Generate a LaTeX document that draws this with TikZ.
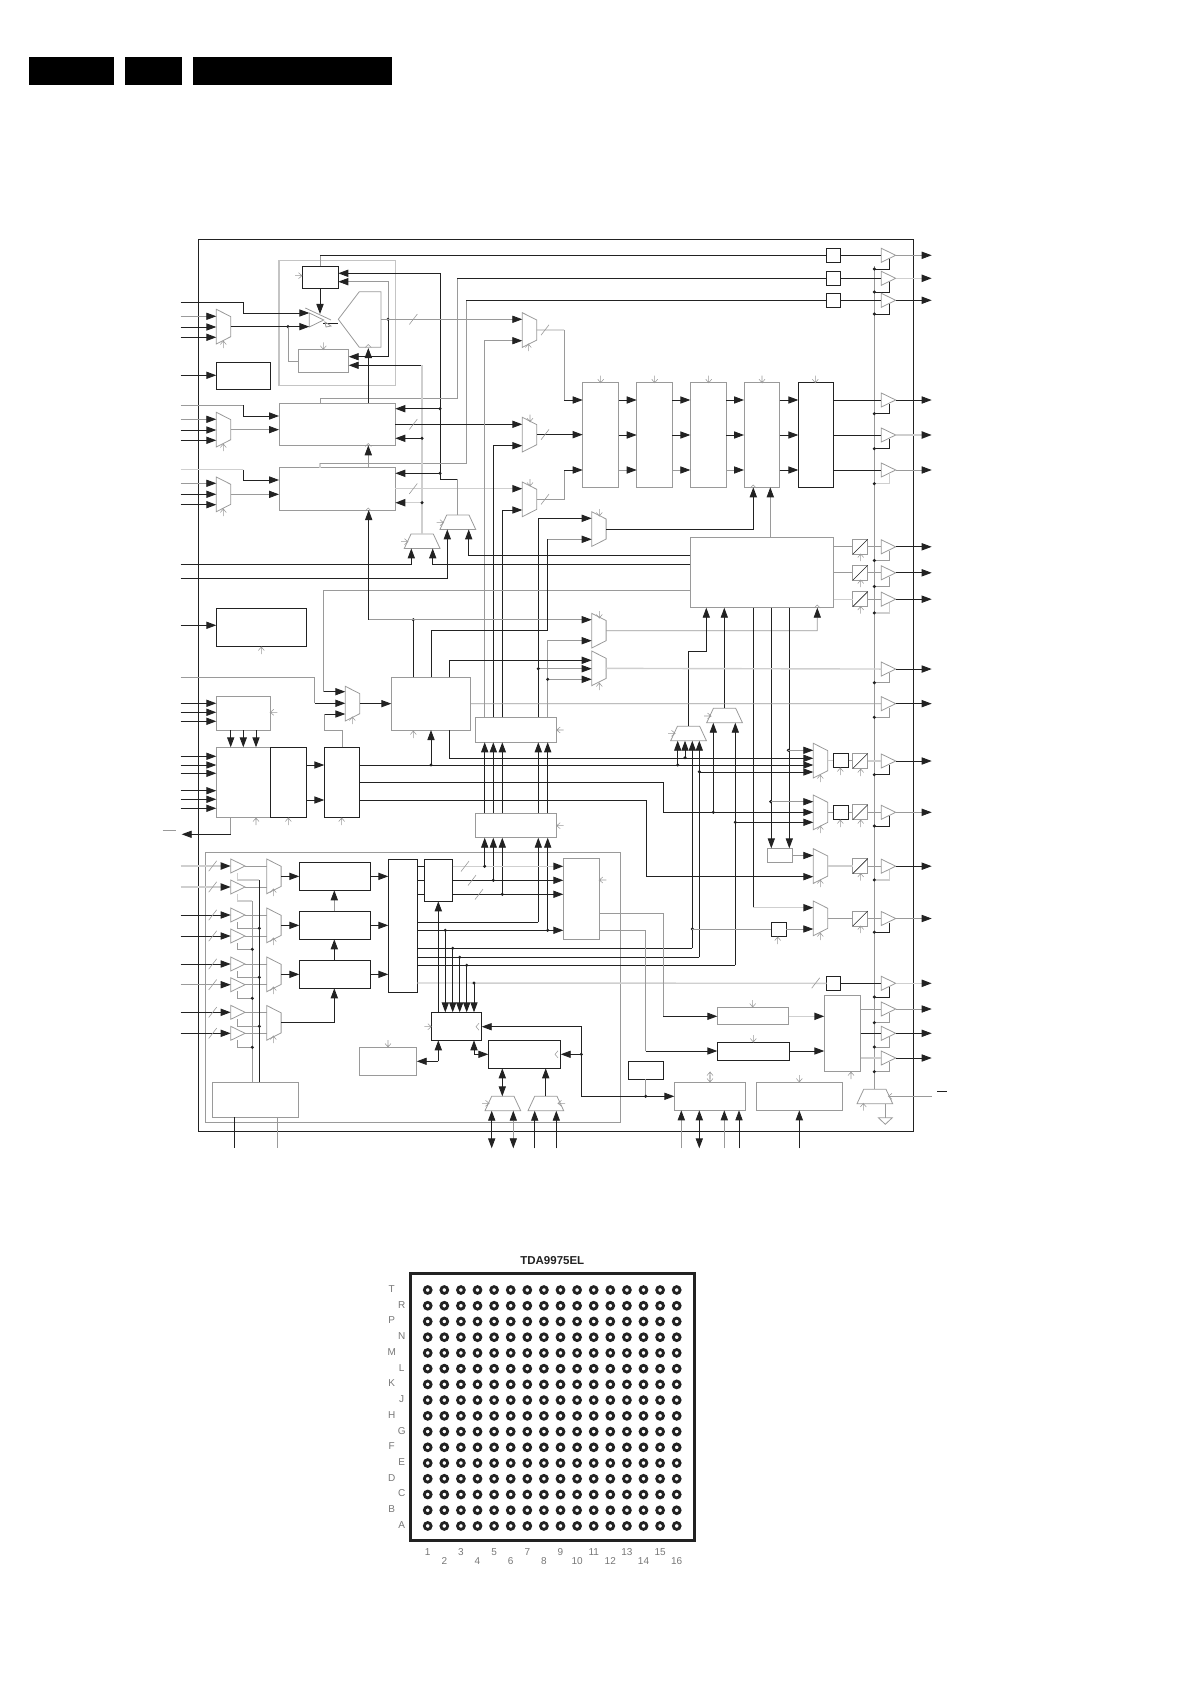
\documentclass[tikz,border=0pt]{standalone}
\usepackage{fontspec}
\setmainfont{Liberation Sans}
\usetikzlibrary{arrows.meta,fit}
\definecolor{ink}{HTML}{222222}
\definecolor{mid}{HTML}{9A9A9A}
\definecolor{pale}{HTML}{CFCFCF}
\definecolor{lab}{HTML}{777777}
\tikzset{
  bk/.style={draw=ink,line width=.9pt},
  gr/.style={draw=mid,line width=.8pt},
  lt/.style={draw=pale,line width=1.4pt},
  ck/.style={draw=mid,line width=.55pt},
  >={Triangle[length=10pt,width=7.2pt,color=ink]},
  bxk/.style={draw=ink,line width=.9pt,inner sep=0pt,outer sep=0pt,minimum size=0pt},
  bxg/.style={draw=mid,line width=.8pt,inner sep=0pt,outer sep=0pt,minimum size=0pt},
  solidbar/.style={fill=black,draw=none,inner sep=0pt,outer sep=0pt,minimum size=0pt},
  ghost/.style={inner sep=0pt,outer sep=0pt,minimum size=0pt},
  lbl/.style={text=lab,font=\fontsize{10}{11}\selectfont,inner sep=0pt},
  ball/.style={draw=ink,line width=2.8pt},
}
\newcommand\bx[6]{\node[#1,fit={(#3,#4)(#5,#6)}] (#2) {};}
% muxes: name, x, y
\newcommand\muxR[3]{\begin{scope}[shift={(#2,#3)}]
  \node[ghost,fit={(0,0)(14.4,34.7)}] (#1) {};
  \draw[gr] (0,0)--(14.4,7.3)--(14.4,27.4)--(0,34.7)--cycle;\end{scope}}
\newcommand\trap[3]{\begin{scope}[shift={(#2,#3)}]
  \node[ghost,fit={(0,0)(35.7,14.4)}] (#1) {};
  \draw[gr] (6.7,0)--(29,0)--(35.7,14.4)--(0,14.4)--cycle;\end{scope}}
\newcommand\buf[3]{\begin{scope}[shift={(#2,#3)}]
  \node[ghost,fit={(0,-7)(14.4,7)}] (#1) {};
  \draw[gr] (0,-7)--(14.4,0)--(0,7)--cycle;\end{scope}}
\newcommand\dac[3]{\begin{scope}[shift={(#2,#3)}]
  \node[bxg,fit={(0,0)(15,15)}] (#1) {};
  \draw[bk,line width=.6pt] (0,15)--(15,0);\end{scope}}
\newcommand\dt[2]{\fill[ink] (#1,#2) circle (1.7);}
\newcommand\slsh[2]{\draw[gr,line width=.6pt] (#1,#2) ++(-4,5.2) -- ++(8,-10.4);}
\newcommand\ckU[2]{\draw[ck] (#1,#2) ++(0,7) -- ++(0,-7) -- ++(-3,3.5) ++(3,-3.5) -- ++(3,3.5);}
\newcommand\ckD[2]{\draw[ck] (#1,#2) ++(0,-7) -- ++(0,7) -- ++(-3,-3.5) ++(3,3.5) -- ++(3,-3.5);}
\newcommand\ckL[2]{\draw[ck] (#1,#2) ++(7,0) -- ++(-7,0) -- ++(3.5,-3) ++(-3.5,3) -- ++(3.5,3);}
\newcommand\ckR[2]{\draw[ck] (#1,#2) ++(-7,0) -- ++(7,0) -- ++(-3.5,-3) ++(3.5,3) -- ++(-3.5,3);}
\newcommand\caret[2]{\draw[ck] (#1,#2) ++(-3,1.5) -- ++(3,-3) -- ++(3,3);}
\newcommand\caretL[2]{\draw[ck] (#1,#2) ++(3,-3.5) -- ++(-3,3.5) -- ++(3,3.5);}
% input pin: name, y, target, line style
\newcommand\pinin[4]{\coordinate (#1) at (180.7,#2);\draw[#4,->] (#1) -- (#3.west |- #1);}
% output buffer: name, yc, stub style, output style
\newcommand\obuf[4]{\buf{#1}{881.3}{#2}\coordinate (#1o) at (931.7,#2);
  \draw[#4,->] (#1.east) -- (#1o);
  \draw[#3] (889.3,#2) ++(0,4) -- ++(0,9.7) -- ++(-15,0);
  \fill[ink] (874.3,#2) ++(0,13.7) circle (1.7);}
% input buffer: name, yc, line style
\newcommand\ibuf[3]{\buf{#1}{230.7}{#2}\coordinate (#1p) at (180.7,#2);
  \draw[#3,->] (#1p) -- (#1.west);\slsh{212.7}{#2}
  \draw[gr] (#1.east) -- ++(22,0);}
\begin{document}
\begin{tikzpicture}[x=1pt,y=-1pt]
\useasboundingbox (0,0) rectangle (1192,1685);
% header bars
\bx{solidbar}{hdra}{29}{57}{114}{85}
\bx{solidbar}{hdrb}{125}{57}{182}{85}
\bx{solidbar}{hdrc}{193}{57}{392}{85}
% frames
\bx{bxk}{chip}{198.7}{239.3}{913.3}{1131}
\bx{bxg}{insec}{205.3}{852.3}{620.7}{1122.3}
\node[bxg,line width=1.2pt,draw=pale!80!mid,fit={(279,260.7)(395.3,385.7)}] (sect) {};
% ---- boxes
\bx{bxk}{ctl}{302.3}{266.3}{338.3}{288.3}
\bx{bxg}{fb}{298.3}{349.3}{348.7}{372.3}
\bx{bxk}{bs}{216.3}{362.3}{270.7}{389.3}
\bx{bxg}{dB}{279}{403.3}{395.3}{445.3}
\bx{bxg}{dC}{279}{467.7}{395.3}{510}
\bx{bxk}{sqa}{826.7}{248.3}{840.3}{262.3}
\bx{bxk}{sqb}{826.7}{271.3}{840.3}{285.3}
\bx{bxk}{sqc}{826.7}{293.3}{840.3}{307.3}
\bx{bxg}{cha}{582.7}{382.3}{618.7}{487.3}
\bx{bxg}{chb}{636.7}{382.3}{672.3}{487.3}
\bx{bxg}{chc}{690.3}{382.3}{726.3}{487.3}
\bx{bxg}{chd}{744}{382.3}{779.7}{487.3}
\bx{bxk}{che}{798.3}{382.3}{833.7}{487.3}
\bx{bxg}{E}{690.3}{537.7}{833.7}{607.7}
\bx{bxk}{R}{216.3}{608.3}{306.7}{646.7}
\bx{bxg}{Q}{216.3}{696.7}{270.3}{730}
\bx{bxg}{P}{216.3}{747.3}{270.3}{817.3}
\bx{bxk}{O}{270.3}{747.3}{306.7}{817.3}
\bx{bxk}{N}{324.3}{747.3}{359.3}{817.3}
\bx{bxg}{F}{391.3}{677.3}{470.7}{730}
\bx{bxg}{K}{475.7}{717.3}{556.7}{742.3}
\bx{bxg}{L}{475.7}{813.3}{556.7}{837.7}
\bx{bxk}{ra}{299.3}{862.3}{370.3}{890.3}
\bx{bxk}{rb}{299.3}{911.3}{370.3}{939.3}
\bx{bxk}{rc}{299.3}{960.3}{370.3}{988.3}
\bx{bxk}{bc}{388.3}{859.3}{417.3}{992.3}
\bx{bxk}{bd}{424.3}{859.3}{452.7}{901.3}
\bx{bxg}{ae}{563.3}{858.7}{599.3}{939.3}
\bx{bxk}{Y}{431.3}{1012.3}{481.7}{1040.3}
\bx{bxk}{ah}{488.3}{1040.3}{560.7}{1068.3}
\bx{bxg}{be}{359.3}{1047.3}{416.7}{1075.3}
\bx{bxg}{bf}{212.7}{1082.3}{298.3}{1117.3}
\bx{bxg}{dly}{767.3}{848.3}{792.3}{862.7}
\bx{bxk}{sqd}{771.3}{922.3}{786}{936.7}
\bx{bxk}{sqe}{826.7}{976.3}{840.3}{990.3}
\bx{bxg}{aa}{824.3}{995.3}{860.7}{1071.7}
\bx{bxg}{ab}{717.3}{1007.3}{788.7}{1024.7}
\bx{bxk}{ac}{717.3}{1042.3}{789.3}{1060.3}
\bx{bxk}{ad}{628.3}{1061.3}{663.3}{1079.3}
\bx{bxg}{af}{674.3}{1082.3}{745.7}{1110.3}
\bx{bxg}{ag}{756.7}{1082.3}{842.7}{1110.3}
\bx{bxk}{sqf}{833.3}{753.3}{848.7}{767.7}
\bx{bxk}{sqg}{833.3}{805.3}{848.7}{819.7}
% ---- muxes
\muxR{mla}{216.3}{309.3}\muxR{mlb}{216.3}{412.3}\muxR{mlc}{216.3}{477}
\muxR{mca}{522.3}{312.7}\muxR{mcb}{522.3}{417.3}\muxR{mcc}{522.3}{482}
\muxR{mq}{591.7}{511.7}\muxR{mp}{591.7}{613.3}\muxR{ms}{591.7}{651}
\muxR{mm}{345.3}{686.3}
\muxR{mT}{813.3}{743.3}\muxR{mU}{813.3}{795}\muxR{mX}{813.3}{848.7}\muxR{mV}{813.3}{901}
\muxR{ina}{266.7}{859}\muxR{inb}{266.7}{908}\muxR{inc}{266.7}{957}\muxR{ind}{266.7}{1005.5}
\trap{tra}{440}{515}\trap{trb}{404.3}{534}\trap{trw}{670.7}{726.3}\trap{trz}{706.7}{708.3}
\trap{tre}{485}{1096.3}\trap{trf}{528}{1096.3}\trap{trg}{857}{1089.3}
% ---- top switch block
\node[ghost,fit={(338.3,291.7)(381,347.3)}] (ymx) {};
\draw[gr] (338.3,319.3)--(359.3,291.7)--(381,291.7)--(381,347.3)--(359.3,347.3)--cycle;
\buf{swt}{309.3}{320}
\draw[gr] (305.3,308)--(331,320);
\draw[bk] (323.3,323.3)--(ymx.west |- 0,323.3);
\draw[gr] (325,322)--(331,326)--(326,327)--cycle;
\caret{368.3}{346}
% ---- input pins
\pinin{pa}{316.3}{mla}{gr}\pinin{pb}{327}{mla}{bk}\pinin{pc}{337.3}{mla}{bk}
\pinin{pd}{419.3}{mlb}{gr}\pinin{pe}{430}{mlb}{bk}\pinin{pf}{440.3}{mlb}{bk}
\pinin{pg}{483.3}{mlc}{gr}\pinin{ph}{494.3}{mlc}{bk}\pinin{pi}{504.7}{mlc}{bk}
\pinin{pj}{375.3}{bs}{bk}
\pinin{pk}{625.3}{R}{bk}
\pinin{pl}{703.3}{Q}{bk}\pinin{pm}{712.3}{Q}{bk}\pinin{pn}{721.3}{Q}{bk}
\pinin{po}{756.3}{P}{bk}\pinin{pq}{765}{P}{bk}\pinin{pr}{773.3}{P}{bk}
\pinin{ps}{790.7}{P}{bk}\pinin{pt}{799.3}{P}{bk}\pinin{pu}{808.3}{P}{bk}
\coordinate (pv) at (180.7,302);
\draw[bk,->] (pv)--(243.3,302)--(243.3,313)--(swt.west |- 0,313);
\coordinate (pw) at (180.7,405.3);
\draw[gr] (pw)--(243.3,405.3);\draw[bk,->] (243.3,405.3)--(243.3,416)--(dB.west |- 0,416);
\coordinate (px) at (180.7,469.7);
\draw[lt] (px)--(243.3,469.7);\draw[bk,->] (243.3,469.7)--(243.3,480)--(dC.west |- 0,480);
\coordinate (py) at (180.7,564.3);
\draw[bk,->] (py)--(411.3,564.3)--(trb.south -| 411.3,0);
\coordinate (pz) at (180.7,578.3);
\draw[bk,->] (pz)--(447.3,578.3)--(tra.south -| 447.3,0);
\coordinate (pza) at (180.7,677.3);
\draw[gr] (pza)--(314.7,677.3)--(314.7,703.3);\draw[bk,->] (314.7,703.3)--(mm.west |- 0,703.3);
% outgoing from P
\coordinate (pout) at (181.7,834.3);
\draw[gr] (P.south -| 230.7,0)--(230.7,834.3);\draw[bk,->] (230.7,834.3)--(pout);
\draw[gr] (162.7,830.3)--(175.7,830.3);
% ---- switch block wiring
\draw[bk,->] (mla.east)--(swt.west |- mla.east);
\dt{288}{326.65}
\draw[gr] (288,326.65)--(288,361.3)--(fb.west |- 0,361.3);
\draw[bk,->] (ctl.south -| 320,0)--(320,314);
\draw[bk,->] (440,479.3)--(440,273.3)--(ctl.east |- 0,273.3);
\draw[gr,->] (388,319.3)--(388,281.7)--(ctl.east |- 0,281.7);
\draw[bk,->] (388,319.3)--(388,356.7)--(fb.east |- 0,356.7);
\dt{388}{319.3}
\draw[gr,->] (ymx.east |- 0,319.3)--(mca.west |- 0,319.3);\slsh{413.3}{319.3}
\draw[gr] (ctl.north -| 320,0)--(320,255.3);
\draw[bk] (320,255.3)--(sqa.west);
\draw[gr] (dB.north -| 320,0)--(320,398.3)--(457.3,398.3)--(457.3,278.3);
\draw[bk] (457.3,278.3)--(sqb.west);
\draw[lt] (dC.north -| 320,0)--(320,463.3);
\draw[gr] (320,463.3)--(466.3,463.3)--(466.3,300.3);
\draw[bk] (466.3,300.3)--(sqc.west);
\draw[bk,->] (dB.north -| 368.3,0)--(368.3,348);
\draw[gr,->] (dC.north -| 368.3,0)--(dB.south -| 368.3,0);
\draw[bk,->] (422,365.3)--(fb.east |- 0,365.3);
\draw[lt] (422,365.3)--(trb.north -| 422,0);
% ---- dB dC
\draw[gr,->] (mlb.east)--(dB.west |- mlb.east);
\draw[gr,->] (mlc.east)--(dC.west |- mlc.east);
\draw[bk,->] (440,408.7)--(dB.east |- 0,408.7);\dt{440}{408.7}
\draw[bk,->] (440,473.3)--(dC.east |- 0,473.3);\dt{440}{473.3}
\draw[bk,->] (422,438.3)--(dB.east |- 0,438.3);\dt{422}{438.3}
\draw[lt,->] (422,502.7)--(dC.east |- 0,502.7);\dt{422}{502.7}
\draw[bk,->] (dB.east |- 0,424.3)--(mcb.west |- 0,424.3);\slsh{413.3}{424.3}
\draw[lt,->] (dC.east |- 0,488.7)--(mcc.west |- 0,488.7);\slsh{413.3}{488.7}
\draw[bk] (440,479.3)--(457.3,479.3);
\draw[gr] (457.3,479.3)--(tra.north -| 457.3,0);
% ---- lines from K up to muxes
\draw[gr,->] (K.north -| 484.7,0)--(484.7,340.7)--(mca.west |- 0,340.7);
\draw[bk,->] (K.north -| 493.3,0)--(493.3,445.7)--(mcb.west |- 0,445.7);
\draw[bk,->] (K.north -| 502.3,0)--(502.3,510)--(mcc.west |- 0,510);
\draw[bk,->] (K.north -| 538.3,0)--(538.3,518.3)--(mq.west |- 0,518.3);
\draw[gr,->] (K.north -| 547.7,0)--(547.7,640.7)--(mp.west |- 0,640.7);
\draw[gr,->] (538.3,668.7)--(ms.west |- 0,668.7);\dt{538.3}{668.7}
\draw[gr,->] (547.7,679.3)--(ms.west |- 0,679.3);\dt{547.7}{679.3}
% ---- into chain
\draw[gr] (mca.east)--(564,330);\slsh{545}{330}
\draw[gr] (564,330)--(564,400);\draw[bk,->] (564,400)--(cha.west |- 0,400);
\draw[bk,->] (mcb.east)--(cha.west |- mcb.east);\slsh{545}{434.6}
\draw[gr] (mcc.east)--(564,499.35)--(564,470);\draw[bk,->] (564,470)--(cha.west |- 0,470);
\slsh{545}{499.3}
\foreach \yy in {400,435}{
  \draw[bk,->] (cha.east |- 0,\yy)--(chb.west |- 0,\yy);
  \draw[bk,->] (chb.east |- 0,\yy)--(chc.west |- 0,\yy);
  \draw[bk,->] (chc.east |- 0,\yy)--(chd.west |- 0,\yy);
  \draw[bk,->] (chd.east |- 0,\yy)--(che.west |- 0,\yy);}
\draw[gr,->] (cha.east |- 0,470)--(chb.west |- 0,470);
\draw[gr,->] (chb.east |- 0,470)--(chc.west |- 0,470);
\draw[gr,->] (chc.east |- 0,470)--(chd.west |- 0,470);
\draw[bk,->] (chd.east |- 0,470)--(che.west |- 0,470);
\draw[bk,->] (mq.east)--(753.3,529.05)--(chd.south -| 753.3,0);
\draw[gr,->] (E.north -| 770.3,0)--(chd.south -| 770.3,0);
% ---- into E
\coordinate (tw) at (468.7,555);
\draw[bk,->] (E.west |- tw)--(tw)--(tra.south -| 468.7,0);
\draw[bk,->] (E.west |- 0,564.3)--(432.7,564.3)--(trb.south -| 432.7,0);
\draw[gr] (323.7,691.7)--(323.7,590.3)--(E.west |- 0,590.3);
\draw[bk,->] (323.7,691.7)--(mm.west |- 0,691.7);
\draw[gr] (342.3,747.3)--(342.3,730.3)--(324.7,730.3)--(324.7,714);
\draw[bk,->] (324.7,714)--(mm.west |- 0,714);
\draw[bk,->] (mm.east)--(F.west |- mm.east);
\draw[bk] (F.north -| 413.3,0)--(413.3,619.7);\dt{413.3}{619.7}
\draw[gr,->] (368.7,619.7)--(mp.west |- 0,619.7);
\draw[bk,->] (368.7,619.7)--(dC.south -| 368.7,0);
\draw[bk] (F.north -| 431.3,0)--(431.3,630.3)--(547.7,630.3)--(547.7,539.3);
\draw[gr,->] (547.7,539.3)--(mq.west |- 0,539.3);
\draw[bk,->] (F.north -| 449.3,0)--(449.3,660.3)--(ms.west |- 0,660.3);
\draw[gr,->] (mp.east)--(817.3,630.65)--(E.south -| 817.3,0);
% ---- E outputs
\draw[bk] (E.south -| 753.3,0)--(753.3,907.7);
\draw[lt,->] (753.3,907.7)--(mV.west |- 0,907.7);
\draw[bk,->] (E.south -| 771.3,0)--(dly.north -| 771.3,0);
\draw[bk,->] (E.south -| 789.3,0)--(dly.north -| 789.3,0);
\dt{788.3}{750.3}\draw[gr,->] (788.3,750.3)--(mT.west |- 0,750.3);
\dt{770.7}{801.7}\draw[gr,->] (770.7,801.7)--(mU.west |- 0,801.7);
% ---- F
\draw[bk,->] (F.south -| 449.3,0)--(449.3,758.3)--(mT.west |- 0,758.3);
\draw[bk,->] (431,765)--(F.south -| 431,0);\dt{431}{765}
\draw[bk,->] (N.east |- 0,765)--(mT.west |- 0,765);
\draw[bk] (N.east |- 0,782.3)--(663.3,782.3)--(663.3,812.3);
\draw[bk,->] (663.3,812.3)--(mU.west |- 0,812.3);
\draw[bk,->] (N.east |- 0,800.3)--(646.7,800.3)--(646.7,876.7)--(mX.west |- 0,876.7);
% ---- W and Z trapezoids
\draw[bk,->] (trw.north -| 688.3,0)--(688.3,651.3)--(706.3,651.3)--(E.south -| 706.3,0);
\draw[bk,->] (trz.north -| 724.3,0)--(E.south -| 724.3,0);
\dt{677.7}{765}\dt{685}{757.7}
\draw[bk,->] (677.7,765)--(trw.south -| 677.7,0);
\draw[bk,->] (685,757.7)--(trw.south -| 685,0);
\draw[bk,->] (692.3,948.3)--(trw.south -| 692.3,0);
\draw[bk,->] (699.3,957.3)--(trw.south -| 699.3,0);
\dt{699.3}{771.7}\draw[bk,->] (699.3,772)--(mT.west |- 0,772);
\dt{713.3}{812.3}\draw[bk,->] (713.3,812.3)--(trz.south -| 713.3,0);
\draw[bk,->] (735.3,965.3)--(trz.south -| 735.3,0);
\dt{735.3}{822.3}\draw[bk,->] (735.3,822.3)--(mU.west |- 0,822.3);
% ---- Q P O N
\foreach \xx in {230.7,243.3,256}{\draw[bk,->] (Q.south -| \xx,0)--(P.north -| \xx,0);}
\draw[bk,->] (O.east |- 0,765)--(N.west |- 0,765);
\draw[bk,->] (O.east |- 0,800)--(N.west |- 0,800);
% ---- K, L
\foreach \xx in {484.7,493.3,502.3,538.3,547.7}{\draw[bk,->] (L.north -| \xx,0)--(K.south -| \xx,0);}
\draw[bk,->] (484.7,866.3)--(L.south -| 484.7,0);
\draw[bk,->] (493.3,880.3)--(L.south -| 493.3,0);
\draw[bk,->] (502.3,894.3)--(L.south -| 502.3,0);
\draw[bk,->] (538.3,922.3)--(L.south -| 538.3,0);
\draw[bk,->] (547.7,930.3)--(L.south -| 547.7,0);
% ---- lower left input block
\ibuf{ia}{866}{lt}\ibuf{ib}{887}{lt}\ibuf{ic}{915}{bk}\ibuf{id}{936}{bk}
\ibuf{ie}{964}{bk}\ibuf{if}{984.7}{gr}\ibuf{ig}{1012.3}{bk}\ibuf{ih}{1033.3}{bk}
\draw[bk] (bf.north -| 259.3,0)--(259.3,880);
\draw[gr] (bf.north -| 252.3,0)--(252.3,901);
\draw[lt] (237.7,873)--(237.7,880)--(259.3,880);
\draw[lt] (237.7,894)--(237.7,901)--(252.3,901);
\draw[gr] (237.7,922)--(237.7,928.3)--(259.3,928.3);\dt{259.3}{928.3}
\draw[gr] (237.7,943)--(237.7,949.3)--(252.3,949.3);\dt{252.3}{949.3}
\draw[gr] (237.7,971)--(237.7,977.3)--(259.3,977.3);\dt{259.3}{977.3}
\draw[gr] (237.7,991)--(237.7,998.3)--(252.3,998.3);\dt{252.3}{998.3}
\draw[gr] (237.7,1019)--(237.7,1026.3)--(259.3,1026.3);\dt{259.3}{1026.3}
\draw[gr] (237.7,1040)--(237.7,1047.3)--(252.3,1047.3);\dt{252.3}{1047.3}
\coordinate (bfa) at (234.3,1148.3);\coordinate (bfb) at (277.3,1148.3);
\draw[bk] (bf.south -| bfa)--(bfa);\draw[gr] (bf.south -| bfb)--(bfb);
\draw[bk,->] (ina.east)--(ra.west |- ina.east);
\draw[bk,->] (inb.east)--(rb.west |- inb.east);
\draw[bk,->] (inc.east)--(rc.west |- inc.east);
\draw[bk,->] (ind.east)--(334.3,1022.85)--(rc.south -| 334.3,0);
\draw[bk,->] (rc.north -| 334.3,0)--(rb.south -| 334.3,0);
\draw[gr,->] (rb.north -| 334.3,0)--(ra.south -| 334.3,0);
\draw[bk,->] (ra.east |- ina.east)--(bc.west |- ina.east);
\draw[bk,->] (rb.east |- inb.east)--(bc.west |- inb.east);
\draw[bk,->] (rc.east |- inc.east)--(bc.west |- inc.east);
\foreach \yy in {866.3,880.3,894.3}{\draw[bk] (bc.east |- 0,\yy)--(bd.west |- 0,\yy);}
\draw[lt,->] (bd.east |- 0,866.3)--(ae.west |- 0,866.3);\slsh{465}{866.3}
\draw[bk,->] (bd.east |- 0,880.3)--(ae.west |- 0,880.3);\slsh{472}{880.3}
\draw[bk,->] (bd.east |- 0,894.3)--(ae.west |- 0,894.3);\slsh{479}{894.3}
\dt{484.7}{866.3}\dt{493.3}{880.3}\dt{502.3}{894.3}
\draw[bk] (bc.east |- 0,922.3)--(538.3,922.3);
\draw[bk,->] (bc.east |- 0,930.3)--(ae.west |- 0,930.3);\dt{547.7}{930.3}
\draw[bk] (bc.east |- 0,948.3)--(692.3,948.3);
\draw[bk] (bc.east |- 0,957.3)--(699.3,957.3);
\draw[bk] (bc.east |- 0,965.3)--(735.3,965.3);
\draw[lt] (bc.east |- 0,983)--(sqe.west);\slsh{815.7}{983}
\draw[bk,->] (Y.north -| 438.3,0)--(bd.south -| 438.3,0);
\foreach \xx/\yy in {445.3/930.3,452.7/948.3,459.7/957.3,466.7/965.3,474/983}{
  \dt{\xx}{\yy}\draw[bk,->] (\xx,\yy)--(Y.north -| \xx,0);}
\coordinate (cka) at (581.7,1026.7);
\draw[bk,->] (cka)--(Y.east |- cka);
\draw[bk] (cka)--(581.7,1096.3)--(645.7,1096.3);
\draw[bk,->] (645.7,1096.3)--(af.west |- 0,1096.3);
\draw[gr] (ad.south -| 645.7,0)--(645.7,1096.3);\dt{645.7}{1096.3}
\draw[bk,->] (581.3,1054.3)--(ah.east |- 0,1054.3);\dt{581.3}{1054.3}
\coordinate (yb) at (438.3,1061.3);
\draw[bk,->] (yb)--(Y.south -| yb);\draw[bk,->] (yb)--(be.east |- yb);
\draw[bk,->] (474,1054.3)--(Y.south -| 474,0);
\draw[bk,->] (474,1054.3)--(ah.west |- 0,1054.3);
\draw[bk,<->] (ah.south -| 502.3,0)--(tre.north -| 502.3,0);
\draw[bk,->] (trf.north -| 545.7,0)--(ah.south -| 545.7,0);
\coordinate (pa1) at (491.7,1148.3);\coordinate (pa2) at (513.3,1148.3);
\coordinate (pa3) at (534.7,1148.3);\coordinate (pa4) at (556.3,1148.3);
\draw[bk,<->] (tre.south -| pa1)--(pa1);
\draw[gr,<->] (tre.south -| pa2)--(pa2);
\draw[bk,->] (pa3)--(trf.south -| pa3);
\draw[bk,->] (pa4)--(trf.south -| pa4);
\coordinate (pb1) at (681.3,1148.3);\coordinate (pb2) at (699.3,1148.3);
\coordinate (pb3) at (724.3,1148.3);\coordinate (pb4) at (739,1148.3);\coordinate (pb5) at (799.3,1148.3);
\draw[gr,->] (pb1)--(af.south -| pb1);
\draw[bk,<->] (af.south -| pb2)--(pb2);
\draw[gr,->] (pb3)--(af.south -| pb3);
\draw[bk,->] (pb4)--(af.south -| pb4);
\draw[bk,->] (pb5)--(ag.south -| pb5);
% ---- AE outputs, AB, AC, AA
\draw[gr] (ae.east |- 0,913.3)--(663.3,913.3)--(663.3,1016.3);
\draw[bk,->] (663.3,1016.3)--(ab.west |- 0,1016.3);
\draw[gr] (ae.east |- 0,930)--(645.7,930)--(645.7,1051);
\draw[bk,->] (645.7,1051)--(ac.west |- 0,1051);
\draw[lt,->] (ab.east |- 0,1016.3)--(aa.west |- 0,1016.3);
\draw[bk,->] (ac.east |- 0,1051)--(aa.west |- 0,1051);
% ---- dly, mux X/V
\draw[gr,->] (dly.east)--(mX.west |- dly.east);
\dt{692.3}{929}
\draw[gr] (692.3,929)--(sqd.west |- 0,929);
\draw[gr,->] (sqd.east |- 0,929)--(mV.west |- 0,929);
% ---- right-hand output buffers
\draw[gr] (trg.north -| 874.3,0)--(874.3,266);
\obuf{oa}{255.3}{bk}{gr}\obuf{ob}{278.3}{bk}{lt}\obuf{oc}{300.3}{bk}{bk}
\obuf{od}{400}{bk}{bk}\obuf{oe}{435}{bk}{lt}\obuf{of}{470}{lt}{gr}
\obuf{og}{546.8}{gr}{bk}\obuf{oh}{572.8}{gr}{bk}\obuf{oi}{599.2}{lt}{bk}
\obuf{oj}{669.05}{gr}{bk}\obuf{ok}{703.65}{gr}{bk}
\obuf{ol}{761}{bk}{bk}\obuf{om}{812.3}{bk}{gr}
\obuf{on}{866.2}{lt}{bk}\obuf{oo}{918.5}{bk}{gr}
\obuf{op}{983.3}{bk}{lt}\obuf{oq}{1009}{gr}{gr}\obuf{orr}{1033.3}{gr}{bk}\obuf{ot}{1058}{gr}{bk}
\draw[bk] (sqa.east)--(oa.west);\draw[bk] (sqb.east)--(ob.west);\draw[bk] (sqc.east)--(oc.west);
\draw[bk] (che.east |- 0,400)--(od.west);\draw[bk] (che.east |- 0,435)--(oe.west);\draw[bk] (che.east |- 0,470)--(of.west);
\dac{da}{852.7}{539.3}\dac{db}{852.7}{565.3}\dac{dc}{852.7}{591.7}
\dac{dd}{852.7}{753.5}\dac{de}{852.7}{804.8}\dac{df}{852.7}{858.7}\dac{dg}{852.7}{911}
\draw[gr] (E.east |- da.west)--(da.west);\draw[gr] (da.east)--(og.west);
\draw[gr] (E.east |- db.west)--(db.west);\draw[gr] (db.east)--(oh.west);
\draw[lt] (E.east |- dc.west)--(dc.west);\draw[gr] (dc.east)--(oi.west);
\draw[lt] (ms.east)--(oj.west);
\draw[gr] (F.east)--(ok.west);
\draw[lt] (mT.east)--(sqf.west |- mT.east);\draw[gr] (sqf.east)--(dd.west |- sqf.east);\draw[lt] (dd.east)--(ol.west);
\draw[gr] (mU.east)--(sqg.west |- mU.east);\draw[gr] (sqg.east)--(de.west |- sqg.east);\draw[gr] (de.east)--(om.west);
\draw[lt] (mX.east)--(df.west |- mX.east);\draw[gr] (df.east)--(on.west);
\draw[gr] (mV.east)--(dg.west |- mV.east);\draw[gr] (dg.east)--(oo.west);
\draw[bk] (sqe.east)--(op.west);
\draw[gr] (aa.east |- 0,1009)--(oq.west);\draw[bk] (aa.east |- 0,1033.3)--(orr.west);\draw[lt] (aa.east |- 0,1058)--(ot.west);
% ---- AD and bottom right
\coordinate (pr1) at (931.7,1096.3);
\draw[gr] (pr1)--(888.5,1096.3);\draw[ink,line width=.8pt] (937.3,1091.3)--(947.3,1091.3);
\coordinate (gnd) at (885.3,1117.7);
\draw[gr] (trg.south -| gnd)--(gnd);
\node[ghost,fit={(878.3,1117.7)(892.3,1124.3)}] (gndn) {};
\draw[gr] (878.3,1117.7)--(892.3,1117.7)--(885.3,1124.3)--cycle;
% ---- small control arrows
\foreach \xx/\yy in {223.3/341,223.3/444,223.3/509,528.3/344,599.3/683,352.3/717,261.3/647,256/818,288.3/818,341.7/818,413.3/731,
  273.3/889,273.3/938,273.3/987,273.3/1036,820.3/775,820.3/826,820.3/880,820.3/933,840.3/768,840.3/820,860.7/769,860.7/820,
  860.7/873.5,860.7/926,860.7/554,860.7/580,860.7/606.5,777.7/937,851/1072,710/1072,863.3/1103.5}{\ckU{\xx}{\yy}}
\foreach \xx/\yy in {530/421.7,530/486,600.7/382.7,654.7/382.7,708.7/382.7,762/382.7,815.3/382.7,599.3/516,599.3/618,323.3/349.3,
  388/1047,752.7/1007,753.3/1042,710/1082,799.3/1082}{\ckD{\xx}{\yy}}
\foreach \xx/\yy in {270.3/712.3,556.7/730,556.7/825.7,599.3/880,558/1103.3,888.5/1096.3}{\ckL{\xx}{\yy}}
\foreach \xx/\yy in {302/275.7,431.3/1026.7,489/1103.3,443.5/522.7,408/541.7,675/733.3,711/716}{\ckR{\xx}{\yy}}
\foreach \xx/\yy in {368.3/445,368.3/509.5,753.3/486.5,817.3/606.5}{\caret{\xx}{\yy}}
\foreach \xx/\yy in {476/1026.7,555/1054.3}{\caretL{\xx}{\yy}}
% ======== pin-grid
\node[ghost,text=ink,font=\bfseries\fontsize{11.5}{12}\selectfont] (ttl) at (552.3,1260.7) {TDA9975EL};
\node[draw=ink,line width=2.6pt,inner sep=0pt,outer sep=0pt,minimum size=0pt,fit={(410.7,1273.3)(694.3,1540.7)}] (grid) {};
\foreach \rr in {0,...,15}{\foreach \cc in {0,...,15}{
  \pgfmathsetmacro\bxx{427.7+16.6*\cc}\pgfmathsetmacro\byy{1290+15.73*\rr}
  \draw[ball] (\bxx,\byy) circle (3.4);}}
\foreach \LL [count=\ii from 0] in {T,R,P,N,M,L,K,J,H,G,F,E,D,C,B,A}{
  \pgfmathsetmacro\lxx{isodd(\ii)?401.7:391.7}\pgfmathsetmacro\lyy{1289+15.73*\ii}
  \node[lbl] (row\LL) at (\lxx,\lyy) {\LL};}
\foreach \nn in {1,...,16}{
  \pgfmathsetmacro\nxx{427.7+16.6*(\nn-1)}\pgfmathsetmacro\nyy{isodd(\nn)?1552.3:1560.7}
  \node[lbl] (col\nn) at (\nxx,\nyy) {\nn};}
\end{tikzpicture}
\end{document}
